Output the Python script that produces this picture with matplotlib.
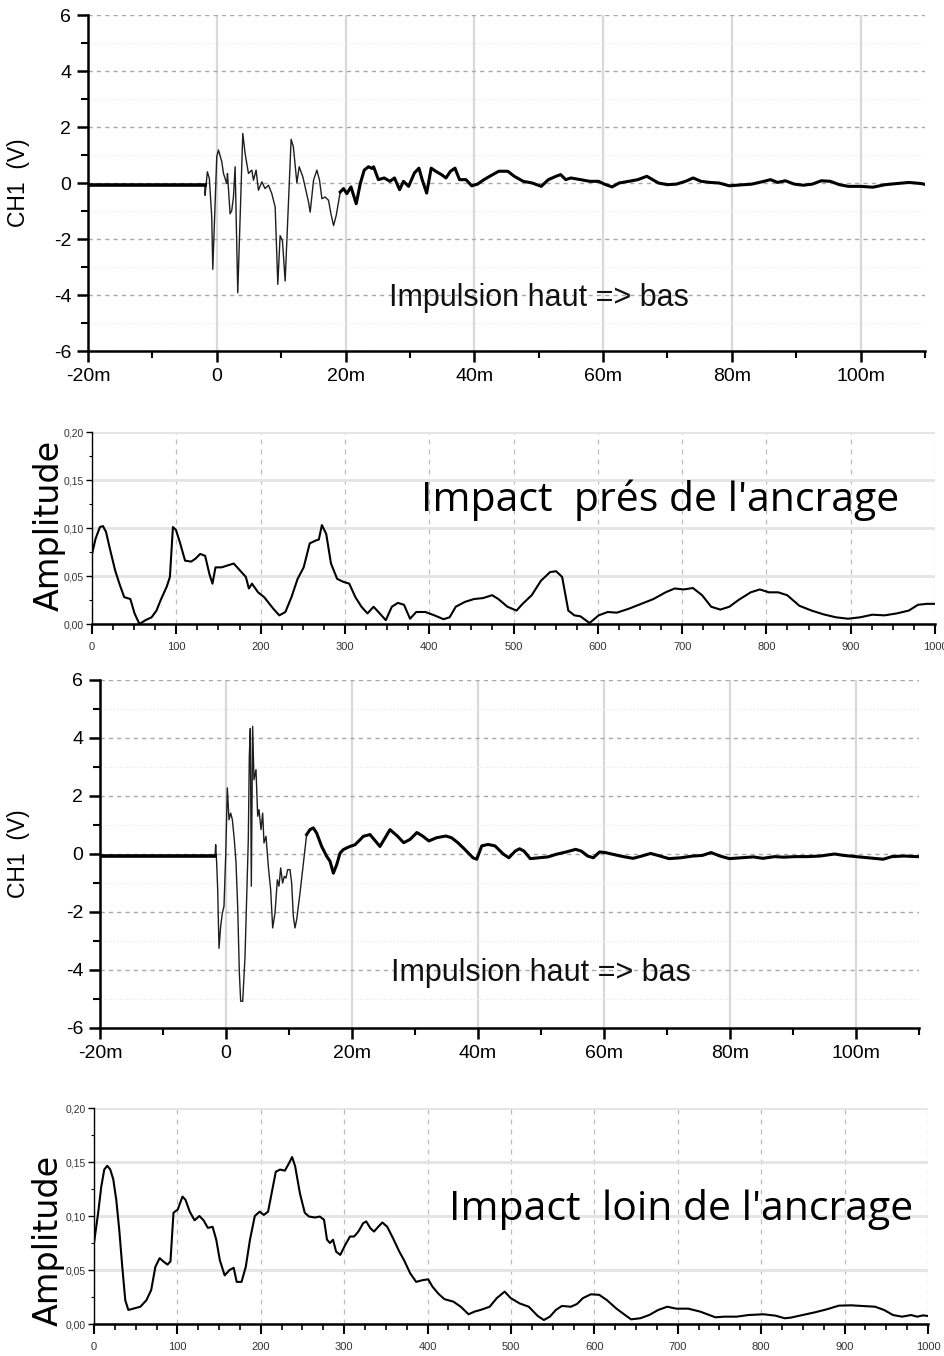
import matplotlib
matplotlib.use('Agg')
import matplotlib.pyplot as plt
from matplotlib import font_manager
from matplotlib.ticker import MultipleLocator
import numpy as np

names = {f.name for f in font_manager.fontManager.ttflist}
SANS = 'Liberation Sans' if 'Liberation Sans' in names else 'DejaVu Sans'
NARROW = 'Liberation Sans Narrow' if 'Liberation Sans Narrow' in names else SANS
CAL = 'Open Sans' if 'Open Sans' in names else SANS

# ---------------- data ----------------
# Panel 1 : time signal, impact near the anchorage (t in ms, V)
t_near = [-20, -1.85, -1.82, -1.46, -1.15, -0.78, -0.62, 0.0, 0.26, 0.78, 1.04, 1.55, 1.66,
          2.07, 2.33, 2.59, 2.85, 3.26, 4.04, 4.40, 4.92, 5.44, 5.70, 6.11, 6.47, 7.0, 7.5,
          8.03, 8.55, 9.07, 9.48, 9.84, 10.2, 10.62, 11.55, 11.9, 12.44, 12.8, 13.37, 14.25,
          14.51, 15.03, 15.55, 15.96, 16.33, 16.84, 17.36, 17.73, 18.14, 18.55, 19.18, 19.69,
          20.2, 20.84, 21.66, 22.29, 22.9, 23.58, 24.1, 24.36, 25.1, 26.0, 26.9, 27.6, 28.4,
          29.0, 29.8, 30.7, 31.4, 31.9, 32.6, 33.3, 34.0, 34.9, 35.6, 36.3, 37.0, 37.7, 38.7,
          39.6, 40.5, 41.5, 42.4, 43.8, 45.2, 46.2, 47.6, 49.0, 50.4, 51.5, 52.7, 53.4, 54.2,
          55.0, 56.5, 57.9, 59.3, 60.2, 61.4, 62.5, 64.0, 65.4, 66.8, 67.7, 68.6, 70.0, 71.4,
          72.8, 74.0, 75.2, 76.6, 78.0, 79.6, 81.3, 83.1, 85.0, 86.0, 87.1, 88.3, 89.7, 91.1,
          92.5, 93.9, 95.3, 96.7, 98.1, 100.0, 101.9, 103.8, 105.6, 107.5, 109.4, 110.0]
v_near = [-0.07, -0.07, -0.44, 0.40, 0.16, -1.22, -3.08, 0.94, 1.18, 0.76, 0.34, -0.02, 0.34,
          -1.10, -0.98, -0.50, 0.58, -3.92, 1.77, 1.06, 0.34, 0.46, 0.10, 0.46, -0.26, 0.04, -0.20,
          -0.08, -0.38, -0.86, -3.62, -1.88, -2.06, -3.50, 1.56, 1.29, 0.00, 0.58, 0.22, -0.68,
          -1.04, 0.10, 0.46, 0.10, -0.56, -0.50, -0.62, -1.10, -1.52, -1.16, -0.32, -0.20,
          -0.38, -0.14, -0.74, -0.02, 0.46, 0.58, 0.52, 0.58, 0.12, 0.18, 0.06, 0.18, -0.24,
          0.06, -0.12, 0.36, 0.53, 0.12, -0.36, 0.53, 0.42, 0.30, 0.18, 0.42, 0.53, 0.12, 0.12,
          -0.10, -0.04, 0.12, 0.24, 0.42, 0.42, 0.24, 0.06, 0.00, -0.12, 0.12, 0.24, 0.30, 0.12,
          0.18, 0.12, 0.06, 0.06, -0.04, -0.14, 0.00, 0.06, 0.12, 0.24, 0.12, 0.00, -0.06, -0.04,
          0.06, 0.18, 0.06, 0.02, 0.00, -0.10, -0.07, -0.04, 0.06, 0.12, 0.02, 0.08, -0.04, -0.08,
          -0.04, 0.08, 0.06, -0.06, -0.12, -0.12, -0.15, -0.06, -0.02, 0.02, -0.02, -0.05]

# Panel 3 : time signal, impact far from the anchorage (t in ms, V)
t_far = [-20, -1.75, -1.64, -1.48, -1.32, -1.11, -0.85, -0.58, -0.32, -0.05, 0.21, 0.48, 0.74,
         1.01, 1.32, 1.59, 1.85, 2.12, 2.33, 2.65, 3.02, 3.28, 3.54, 3.70, 3.86, 4.02, 4.23,
         4.44, 4.76, 5.03, 5.24, 5.56, 5.82, 6.03, 6.35, 6.72, 7.09, 7.41, 7.78, 8.15, 8.41,
         8.68, 8.99, 9.26, 9.52, 9.79, 10.16, 10.42, 10.69, 10.95, 11.22, 11.75, 12.28, 12.80,
         13.33, 13.86, 14.39, 15.19, 15.98, 16.51, 17.04, 17.57, 18.1, 18.62, 19.15, 19.68,
         20.48, 21.27, 21.8, 22.86, 24.44, 26.03, 27.2, 28.2, 29.2, 30.3, 31.2, 32.2, 33.4,
         34.9, 35.8, 36.8, 37.9, 39.2, 39.8, 40.6, 41.6, 42.7, 44.0, 44.9, 45.9, 46.6, 47.3,
         48.3, 49.7, 51.1, 52.6, 54.0, 55.5, 56.4, 57.4, 58.3, 59.3, 60.2, 61.2, 62.6, 64.6,
         66.0, 67.4, 68.9, 70.3, 72.2, 74.1, 75.6, 77.0, 78.4, 79.9, 81.8, 83.7, 85.2, 87.1,
         88.5, 90.4, 92.4, 94.3, 96.6, 98.1, 100.0, 101.9, 104.3, 105.7, 107.6, 109.6, 110.0]
v_far = [-0.08, -0.08, 0.32, -0.31, -1.23, -3.25, -2.50, -2.04, -1.80, -0.08, 2.28, 1.18, 1.41,
         1.18, 0.49, -0.31, -1.80, -4.10, -5.08, -5.08, -3.53, -1.46, 0.49, 3.37, 4.33, -1.11,
         4.40, 2.56, 2.91, 1.30, 1.53, 0.84, 1.41, 0.38, 0.61, -0.43, -1.23, -2.55, -2.03, -0.89,
         -1.11, -0.48, -1.00, -0.77, -0.83, -0.54, -0.54, -1.00, -2.15, -2.55, -2.26, -1.34,
         -0.31, 0.67, 0.84, 0.90, 0.72, 0.26, -0.08, -0.25, -0.66, -0.37, 0.03, 0.15, 0.21,
         0.26, 0.32, 0.49, 0.61, 0.67, 0.26, 0.84, 0.62, 0.39, 0.50, 0.74, 0.62, 0.45, 0.56,
         0.62, 0.56, 0.39, 0.16, -0.13, -0.18, 0.28, 0.33, 0.28, 0.00, -0.13, 0.10, 0.18, 0.10,
         -0.16, -0.13, -0.10, 0.00, 0.07, 0.16, 0.10, -0.07, -0.13, 0.07, 0.05, 0.00, -0.07,
         -0.15, -0.07, 0.02, -0.07, -0.16, -0.13, -0.07, -0.05, 0.05, -0.07, -0.16, -0.13,
         -0.10, -0.15, -0.09, -0.11, -0.09, -0.09, -0.07, 0.00, -0.05, -0.09, -0.13, -0.18,
         -0.09, -0.07, -0.09, -0.09]

# Panel 2 : spectrum, impact near the anchorage
f_near = [0, 4.3, 9.4, 13, 16.6, 21.6, 27.4, 32.5, 38.2, 45.5, 50.5, 56.3, 63.5, 70.7, 76.5,
          81.5, 88.7, 92.4, 96, 99.6, 104.6, 110.4, 117.6, 122.7, 128.4, 134.2, 139.3, 142.9,
          146.5, 153.7, 160.9, 168.1, 175.3, 182.5, 186.1, 189.8, 197, 204.2, 215, 222.2,
          229.4, 236.6, 243.9, 251.1, 258.3, 265.5, 269.1, 272.7, 277.8, 283.5, 290.8, 298,
          305.2, 312.4, 319.6, 326.8, 334, 341.3, 348.5, 355.7, 362.9, 370.1, 377.3, 384.6,
          395.4, 406.2, 417, 424.2, 431.5, 442.3, 453.1, 463.9, 474.7, 482, 492.8, 503.6,
          510.8, 521.6, 532.5, 543.3, 550.5, 557.7, 565, 572.2, 579.4, 590.2, 601, 611.8,
          622.6, 637.1, 651.5, 666, 680.4, 691.2, 702, 712.8, 723.7, 734.5, 745.3, 756.1,
          766.9, 781.4, 792.2, 803, 813.9, 824.7, 839.1, 853.5, 868, 882.4, 896.8, 911.3,
          925.7, 940.1, 954.5, 969, 979.8, 990.6, 1000]
a_near = [0.073, 0.089, 0.101, 0.102, 0.096, 0.077, 0.056, 0.042, 0.028, 0.026, 0.011, 0.000,
          0.004, 0.007, 0.014, 0.025, 0.039, 0.049, 0.101, 0.098, 0.084, 0.066, 0.065, 0.068,
          0.073, 0.071, 0.052, 0.042, 0.059, 0.059, 0.061, 0.063, 0.056, 0.049, 0.037, 0.042,
          0.033, 0.028, 0.016, 0.009, 0.0125, 0.028, 0.047, 0.059, 0.084, 0.087, 0.088, 0.103,
          0.094, 0.063, 0.047, 0.044, 0.042, 0.028, 0.018, 0.011, 0.018, 0.011, 0.004, 0.018,
          0.022, 0.020, 0.0055, 0.0125, 0.0125, 0.009, 0.005, 0.007, 0.018, 0.023, 0.026,
          0.027, 0.030, 0.026, 0.018, 0.014, 0.021, 0.030, 0.045, 0.054, 0.055, 0.049, 0.014,
          0.009, 0.008, 0.001, 0.009, 0.0125, 0.0118, 0.016, 0.021, 0.026, 0.033, 0.037, 0.036,
          0.0375, 0.030, 0.018, 0.015, 0.018, 0.025, 0.033, 0.036, 0.033, 0.033, 0.030, 0.019,
          0.014, 0.010, 0.007, 0.0055, 0.007, 0.0097, 0.009, 0.011, 0.014, 0.020, 0.021, 0.021]

# Panel 4 : spectrum, impact far from the anchorage
f_far = [0, 5, 8.7, 12.3, 15.9, 19.5, 23.1, 26.7, 30.3, 33.9, 37.5, 41.2, 48.4, 55.6, 62.8,
         68.6, 73.6, 78.7, 83, 88.1, 91.7, 95.3, 100.4, 106.1, 109.7, 114.8, 120.6, 126.4,
         131.4, 136.5, 142.2, 146.6, 150.9, 156.7, 162.5, 167.5, 171.1, 176.9, 182, 187,
         192.8, 198.6, 203.6, 208.7, 213, 218, 223.1, 228.9, 233.9, 237.5, 241.2, 246.9,
         252.7, 257.8, 265, 270.8, 275.8, 279.4, 283, 286.6, 290.3, 295.3, 301.1, 306.9,
         311.9, 317, 322.7, 326.4, 331.4, 335.7, 340.8, 345.8, 351.6, 358.8, 366.1, 371.8,
         379.1, 386.3, 393.5, 400.7, 405.8, 413, 420.2, 431, 439.7, 449.1, 456.3, 463.5,
         474.4, 483, 492.4, 499.6, 510.5, 521.3, 532.1, 539.4, 546.6, 553.8, 561, 571.8,
         579.1, 586.3, 595.7, 605.8, 615.2, 626, 636.8, 644, 654.9, 665.7, 676.5, 687.4,
         698.2, 712.6, 727.1, 737.9, 745.1, 755.9, 770.4, 784.8, 802.9, 817.3, 828.2, 835.4,
         849.8, 864.3, 878.7, 893.1, 907.6, 922, 936.5, 947.3, 958.1, 968.9, 979.8, 987,
         994.2, 1000]
a_far = [0.075, 0.103, 0.127, 0.143, 0.1465, 0.143, 0.134, 0.115, 0.087, 0.053, 0.022, 0.013,
         0.0145, 0.016, 0.022, 0.0315, 0.053, 0.061, 0.058, 0.055, 0.058, 0.103, 0.106, 0.118,
         0.115, 0.104, 0.096, 0.100, 0.096, 0.089, 0.090, 0.078, 0.059, 0.045, 0.050, 0.052,
         0.039, 0.039, 0.053, 0.078, 0.100, 0.104, 0.101, 0.104, 0.121, 0.141, 0.143, 0.142,
         0.149, 0.1546, 0.146, 0.121, 0.103, 0.0995, 0.0986, 0.0995, 0.0965, 0.078, 0.075,
         0.078, 0.067, 0.064, 0.073, 0.081, 0.081, 0.0856, 0.0933, 0.095, 0.0887, 0.0856,
         0.090, 0.094, 0.090, 0.079, 0.067, 0.059, 0.047, 0.039, 0.0405, 0.0414, 0.0346, 0.028,
         0.023, 0.0207, 0.016, 0.009, 0.0115, 0.013, 0.016, 0.024, 0.030, 0.024, 0.019, 0.016,
         0.0074, 0.0037, 0.0068, 0.013, 0.0167, 0.016, 0.0185, 0.024, 0.0275, 0.027, 0.022,
         0.0145, 0.0083, 0.0043, 0.0053, 0.0083, 0.013, 0.016, 0.0142, 0.0142, 0.0114, 0.0083,
         0.0062, 0.0068, 0.0068, 0.0083, 0.009, 0.0077, 0.0053, 0.0059, 0.0083, 0.0108, 0.0136,
         0.017, 0.0173, 0.0167, 0.016, 0.013, 0.0083, 0.0068, 0.0083, 0.0068, 0.008, 0.0074]

time_ticks = [-20, 0, 20, 40, 60, 80, 100]
time_tick_labels = ['-20m', '0', '20m', '40m', '60m', '80m', '100m']
volt_ticks = [-6, -4, -2, 0, 2, 4, 6]
volt_tick_labels = ['-6', '-4', '-2', '0', '2', '4', '6']
freq_ticks = [0, 100, 200, 300, 400, 500, 600, 700, 800, 900, 1000]
freq_tick_labels = ['0', '100', '200', '300', '400', '500', '600', '700', '800', '900', '1000']
amp_ticks = [0.00, 0.05, 0.10, 0.15, 0.20]
amp_tick_labels = ['0,00', '0,05', '0,10', '0,15', '0,20']

# ---------------- figure ----------------
W, H = 945, 1356
fig = plt.figure(figsize=(W / 100, H / 100), dpi=100)
fig.patch.set_facecolor('white')


def add_axes(l, t, r, b):
    return fig.add_axes([l / W, 1 - b / H, (r - l) / W, (b - t) / H])


def time_panel(ax, t, v, label_x, pre_end, tail_start):
    t = np.asarray(t, float)
    v = np.asarray(v, float)
    ax.set_xlim(-20, 110)
    ax.set_ylim(-6, 6)
    for s in ('top', 'right'):
        ax.spines[s].set_visible(False)
    for s in ('left', 'bottom'):
        ax.spines[s].set_linewidth(1.8)
    ax.set_xticks(time_ticks)
    ax.set_xticklabels(time_tick_labels)
    ax.xaxis.set_minor_locator(MultipleLocator(10))
    ax.set_yticks(volt_ticks)
    ax.set_yticklabels(volt_tick_labels)
    ax.yaxis.set_minor_locator(MultipleLocator(1))
    ax.tick_params(which='major', direction='out', length=8, width=1.8, pad=4,
                   labelsize=14)
    ax.tick_params(which='minor', direction='out', length=5, width=1.5)
    for lab in ax.get_xticklabels() + ax.get_yticklabels():
        lab.set_fontfamily(SANS)
    ax.set_axisbelow(True)
    ax.yaxis.grid(True, which='major', ls=(0, (3, 3)), color='#a8a8a8', lw=1.0)
    ax.yaxis.grid(True, which='minor', ls=(0, (1, 2)), color='#e6e6e6', lw=0.8)
    ax.xaxis.grid(True, which='major', ls='-', color='#d9d9d9', lw=1.6)
    # whole trace thin, then thicker noisy parts
    ax.plot(t, v, color='#1e1e1e', lw=1.0, solid_joinstyle='round', zorder=3)
    pre = t <= pre_end
    ax.plot(t[pre], v[pre], color='black', lw=2.6, zorder=4)
    tail = t >= tail_start
    ax.plot(t[tail], v[tail], color='black', lw=2.2, solid_joinstyle='round', zorder=4)
    ax.set_ylabel('CH1  (V)', fontsize=16.5, family=SANS)
    ax.yaxis.set_label_coords(label_x, 0.5)
    ax.text(50, -4.1, 'Impulsion haut => bas', ha='center', va='center',
            fontsize=22, family=SANS, color='#111111', zorder=5)


def freq_panel(ax, f, a, title, lab_x, lab_y, tx, ty):
    ax.set_xlim(0, 1000)
    ax.set_ylim(0, 0.20)
    for s in ('top', 'right'):
        ax.spines[s].set_visible(False)
    ax.spines['left'].set_linewidth(1.0)
    ax.spines['bottom'].set_linewidth(1.8)
    ax.set_xticks(freq_ticks)
    ax.set_xticklabels(freq_tick_labels)
    ax.xaxis.set_minor_locator(MultipleLocator(25))
    ax.set_yticks(amp_ticks)
    ax.set_yticklabels(amp_tick_labels)
    ax.yaxis.set_minor_locator(MultipleLocator(0.025))
    ax.tick_params(axis='x', which='major', direction='out', length=7, width=1.5, pad=6,
                   labelsize=8)
    ax.tick_params(axis='x', which='minor', direction='out', length=4, width=1.2)
    ax.tick_params(axis='y', which='major', direction='out', length=4, width=1.0, pad=2,
                   labelsize=7.5)
    ax.tick_params(axis='y', which='minor', direction='out', length=2, width=0.8)
    for lab in ax.get_xticklabels() + ax.get_yticklabels():
        lab.set_fontfamily(NARROW)
        lab.set_color('#333333')
    ax.set_axisbelow(True)
    ax.yaxis.grid(True, which='major', ls='-', color='#e4e4e4', lw=2.0)
    ax.xaxis.grid(True, which='major', ls=(0, (4, 4)), color='#bdbdbd', lw=0.9)
    ax.plot(f, a, color='black', lw=1.5, solid_joinstyle='round', zorder=3)
    ax.set_ylabel('Amplitude', fontsize=24, family='DejaVu Sans')
    ax.yaxis.set_label_coords(lab_x, lab_y)
    ax.text(tx, ty, title, transform=ax.transAxes, ha='center', va='center',
            fontsize=29.5, family=CAL, color='black', zorder=5)


ax1 = add_axes(88, 15, 925, 351)
time_panel(ax1, t_near, v_near, -0.069, -1.84, 19)

ax2 = add_axes(92, 432, 935, 624)
freq_panel(ax2, f_near, a_near, "Impact  prés de l'ancrage", -0.031, 0.515, 0.674, 0.646)

ax3 = add_axes(100, 680, 919, 1028)
time_panel(ax3, t_far, v_far, -0.085, -1.7, 12.5)

ax4 = add_axes(94, 1108, 928, 1324)
freq_panel(ax4, f_far, a_far, "Impact  loin de l'ancrage", -0.035, 0.385, 0.704, 0.528)

fig.savefig('out.png', dpi=100, facecolor='white')
